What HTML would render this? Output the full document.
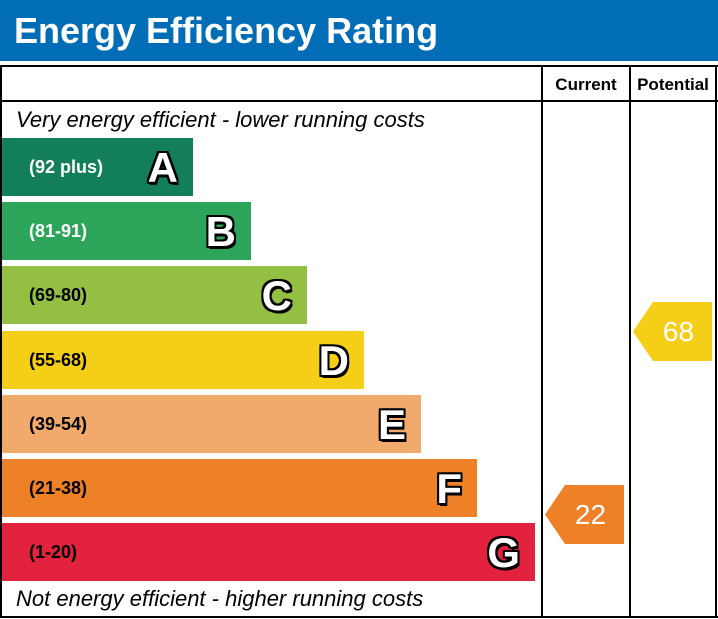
<!DOCTYPE html>
<html><head><style>
body{margin:0;width:718px;height:619px;background:#fff;position:relative;overflow:hidden;font-family:"Liberation Sans",Arial,sans-serif}
.abs{position:absolute}
.hdr{left:0;top:0;width:718px;height:61px;background:#006db6;color:#fff;font-weight:bold;font-size:36px;line-height:61px;padding-left:14px;box-sizing:border-box}
.line{background:#000}
.bar{position:absolute;left:2px;height:58px}
.bar .r{position:absolute;left:27px;top:0;line-height:58px;font-weight:bold;font-size:18px}
.bar .l{position:absolute;right:15px;top:1px;line-height:58px;font-weight:bold;font-size:42px;color:#fff;
text-shadow:-2px -2px 0 #000,2px -2px 0 #000,-2px 2px 0 #000,2px 2px 0 #000,0 2px 0 #000,0 -2px 0 #000,2px 0 0 #000,-2px 0 0 #000,1px 3px 0 #000,2px 3px 0 #000}
.it{font-style:italic;font-size:22px;color:#000}
.arr{position:absolute;width:79px;height:59px;clip-path:polygon(20px 0,100% 0,100% 100%,20px 100%,0 50%);color:#fff;font-size:28px;line-height:59px;text-align:center;padding-left:12px;box-sizing:border-box}
</style></head><body>
<div class="abs hdr">Energy Efficiency Rating</div>
<div class="abs line" style="left:0;top:65px;width:718px;height:2px"></div>
<div class="abs line" style="left:0;top:100px;width:718px;height:2px"></div>
<div class="abs line" style="left:0;top:616px;width:718px;height:2px"></div>
<div class="abs line" style="left:0;top:65px;width:2px;height:553px"></div>
<div class="abs line" style="left:541px;top:65px;width:2px;height:553px"></div>
<div class="abs line" style="left:629px;top:65px;width:2px;height:553px"></div>
<div class="abs line" style="left:715px;top:65px;width:2px;height:553px"></div>
<div class="abs" style="left:543px;top:67px;width:86px;line-height:35px;text-align:center;font-weight:bold;font-size:17px">Current</div>
<div class="abs" style="left:631px;top:67px;width:84px;line-height:35px;text-align:center;font-weight:bold;font-size:17px">Potential</div>
<div class="abs it" style="left:16px;top:107px">Very energy efficient - lower running costs</div>
<div class="abs it" style="left:16px;top:586px">Not energy efficient - higher running costs</div>
<div class="bar" style="top:138px;width:191px;background:#127e5a"><span class="r" style="color:#fff">(92 plus)</span><span class="l">A</span></div>
<div class="bar" style="top:202px;width:249px;background:#2ca55a"><span class="r" style="color:#fff">(81-91)</span><span class="l">B</span></div>
<div class="bar" style="top:266px;width:305px;background:#93bf43"><span class="r">(69-80)</span><span class="l">C</span></div>
<div class="bar" style="top:331px;width:362px;background:#f5ce18"><span class="r">(55-68)</span><span class="l">D</span></div>
<div class="bar" style="top:395px;width:419px;background:#f2aa6c"><span class="r">(39-54)</span><span class="l">E</span></div>
<div class="bar" style="top:459px;width:475px;background:#ee8128"><span class="r">(21-38)</span><span class="l">F</span></div>
<div class="bar" style="top:523px;width:533px;background:#e3223d"><span class="r">(1-20)</span><span class="l">G</span></div>
<div class="arr" style="left:633px;top:302px;background:#f5ce18">68</div>
<div class="arr" style="left:545px;top:485px;background:#ee8128">22</div>
</body></html>
